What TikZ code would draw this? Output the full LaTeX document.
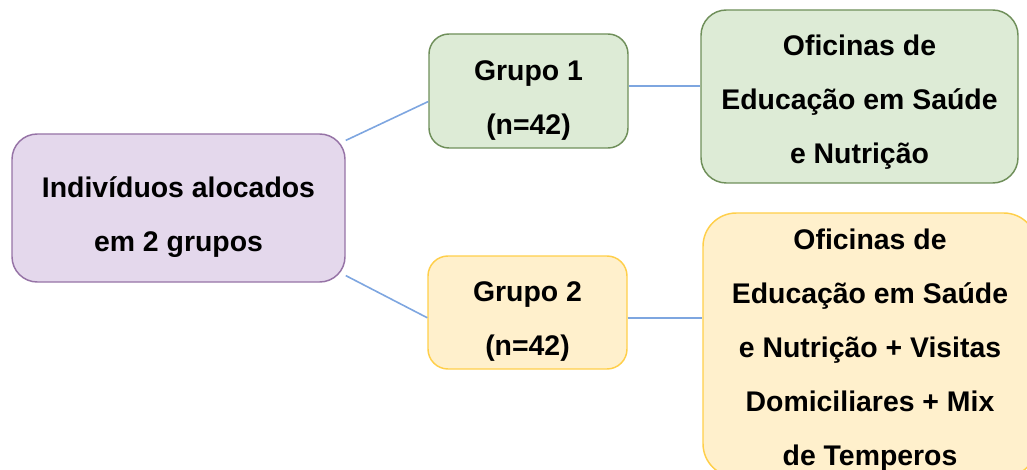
\documentclass[tikz,border=0pt]{standalone}
\usepackage{fontspec}
\setmainfont{Liberation Sans}
\definecolor{purpfill}{HTML}{E4D8EC}
\definecolor{purpline}{HTML}{9673A6}
\definecolor{grnfill}{HTML}{DDEBD6}
\definecolor{grnline}{HTML}{6F8F5A}
\definecolor{yelfill}{HTML}{FFF0CC}
\definecolor{yelline}{HTML}{FFCF4A}
\definecolor{linkblue}{HTML}{7EA6E0}
\newcommand{\lift}[1]{\rule{0pt}{#1}}

\begin{document}
\begin{tikzpicture}[x=0.75pt,y=-0.75pt,
  font=\bfseries\fontsize{21.3}{40.5}\selectfont,
  box/.style={draw,rounded corners=15pt,align=center,inner sep=0pt,line width=1.1pt},
  root/.style={box,fill=purpfill,draw=purpline,rounded corners=19pt},
  grp1/.style={box,fill=grnfill,draw=grnline},
  grp2/.style={box,fill=yelfill,draw=yelline},
  lnk/.style={draw=linkblue,line width=1.2pt}]
\useasboundingbox (0,0) rectangle (1027,470);
\clip (0,0) rectangle (1027,470);
\node[root,minimum width=249.75pt,minimum height=111pt] (ind) at (178.5,208) {\lift{30pt}Indivíduos alocados\\em 2 grupos};
\node[grp1,minimum width=149.25pt,minimum height=85.5pt] (g1) at (528.5,91) {\lift{29pt}Grupo 1\\(n=42)};
\node[grp2,minimum width=149.25pt,minimum height=84.75pt] (g2) at (527.5,312.5) {\lift{29pt}Grupo 2\\(n=42)};
\node[grp1,rounded corners=19pt,minimum width=237.75pt,minimum height=129.75pt] (ofc1) at (859.5,96.5) {\lift{24.6pt}Oficinas de\\Educação em Saúde\\e Nutrição};
\node[grp2,rounded corners=25pt,minimum width=250.5pt,minimum height=198pt] (ofc2) at (870,345) {\lift{23pt}Oficinas de\\Educação em Saúde\\e Nutrição + Visitas\\Domiciliares + Mix\\de Temperos};
\draw[lnk] (ind.22)--(g1.186);
\draw[lnk] (ind.-22)--(g2.183);
\draw[lnk] (g1.3)--(g1.3 -| ofc1.west);
\draw[lnk] (g2.-3)--(g2.-3 -| ofc2.west);
\end{tikzpicture}
\end{document}
